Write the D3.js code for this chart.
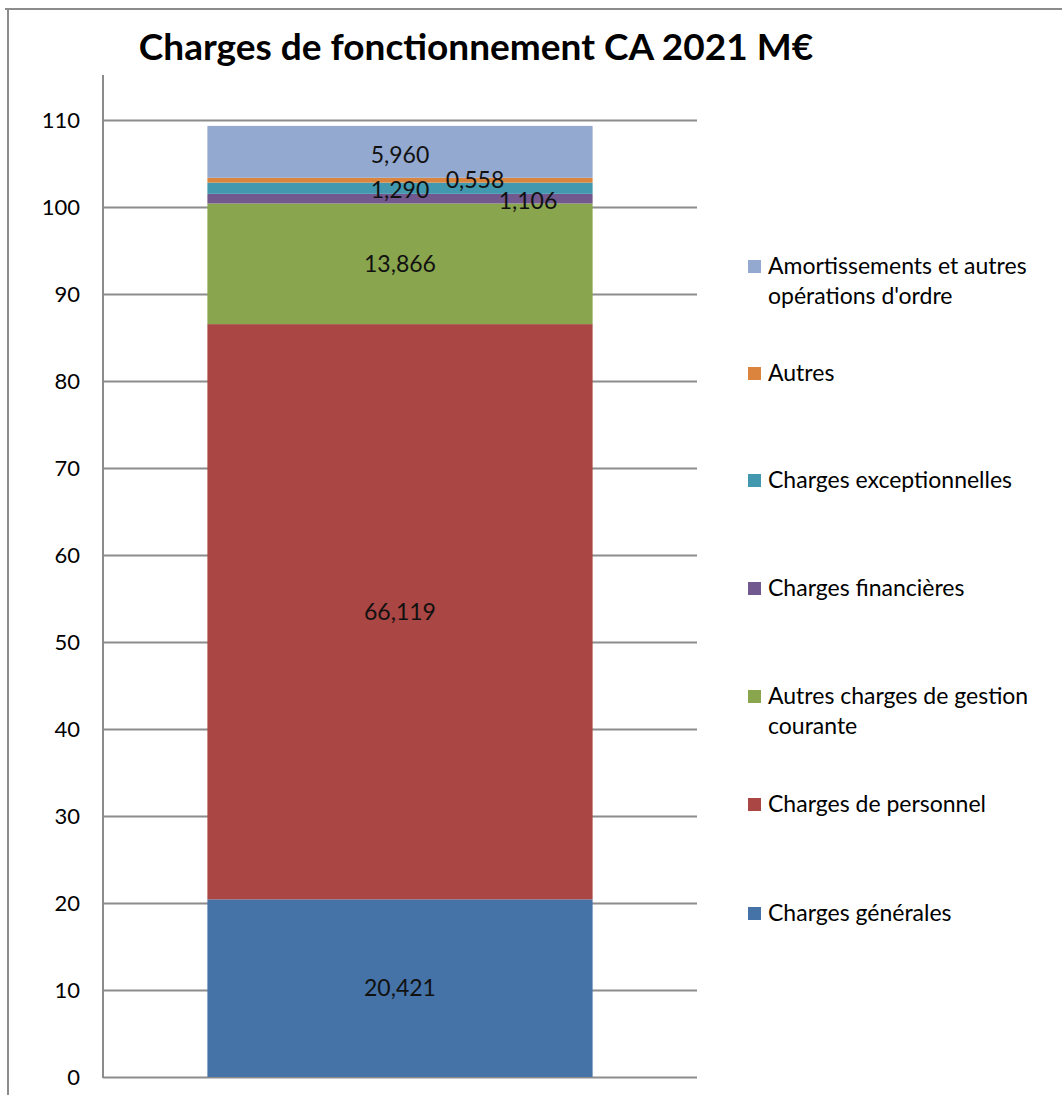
<!DOCTYPE html>
<html lang="fr">
<head>
  <meta charset="UTF-8">
  <title>Charges de fonctionnement CA 2021 M€</title>
  <script src="https://d3js.org/d3.v7.min.js"></script>
  <style>
    body { margin: 0; background: #fff; font-family: Lato, "Noto Sans", sans-serif; }
    .grid line { stroke: #8c8c8c; stroke-width: 2; }
    .grid path { display: none; }
  </style>
</head>
<body>
  <div id="chart"></div>
  <script>
    // Données
    const series = ["Charges générales", "Charges de personnel", "Autres charges de gestion courante",
                    "Charges financières", "Charges exceptionnelles", "Autres",
                    "Amortissements et autres opérations d'ordre"];
    const values = [20.421, 66.119, 13.866, 1.106, 1.290, 0.558, 5.960];
    const labels = ["20,421", "66,119", "13,866", "1,106", "1,290", "0,558", "5,960"];
    const yTicks = [0, 10, 20, 30, 40, 50, 60, 70, 80, 90, 100, 110];

    const colors = ["#4572a7", "#aa4643", "#89a54e", "#71588f", "#4198af", "#db843d", "#93a9cf"];
    // décalage manuel des étiquettes (petites séries)
    const labelShift = {3: [128, 2], 5: [75, 0], 4: [0, 2], 6: [0, 3]};

    const W = 1062, H = 1095;
    const svg = d3.select("#chart").append("svg").attr("width", W).attr("height", H);

    // cadre
    svg.append("path").attr("d", `M5,9 H${W} M8,9 V${H}`)
       .attr("fill", "none").attr("stroke", "#8c8c8c").attr("stroke-width", 2);

    svg.append("text").attr("x", 476).attr("y", 60).attr("text-anchor", "middle")
       .style("font-size", "37px").style("font-weight", "bold").text("Charges de fonctionnement CA 2021 M€");

    const y = d3.scaleLinear().domain([0, 110]).range([1077, 120]);
    const x = d3.scaleBand().domain(["CA 2021"]).range([103, 697]).paddingInner(0).paddingOuter(0.271);

    const left = 103, right = 697;

    svg.append("g").attr("class", "grid")
       .attr("transform", `translate(${left},0)`)
       .call(d3.axisLeft(y).tickValues(yTicks).tickSize(-(right - left)).tickFormat(""));

    svg.append("line").attr("x1", left).attr("x2", left).attr("y1", 75).attr("y2", 1078)
       .attr("stroke", "#8c8c8c").attr("stroke-width", 2);

    svg.append("g").selectAll("text").data(yTicks).join("text")
       .attr("x", 80).attr("y", d => y(d)).attr("dy", "0.35em").attr("text-anchor", "end")
       .style("font-size", "22px").attr("fill", "#000").text(d => d);

    const stacked = [];
    let acc = 0;
    values.forEach((v, i) => { stacked.push({i, y0: acc, y1: acc + v}); acc += v; });

    svg.append("g").selectAll("rect").data(stacked).join("rect")
       .attr("x", x("CA 2021")).attr("width", x.bandwidth())
       .attr("y", d => y(d.y1)).attr("height", d => y(d.y0) - y(d.y1))
       .attr("fill", d => colors[d.i]);

    svg.append("g").selectAll("text").data(stacked).join("text")
       .attr("x", d => x("CA 2021") + x.bandwidth() / 2 + (labelShift[d.i] ? labelShift[d.i][0] : 0))
       .attr("y", d => y((d.y0 + d.y1) / 2) + (labelShift[d.i] ? labelShift[d.i][1] : 0))
       .attr("dy", "0.35em").attr("text-anchor", "middle")
       .style("font-size", "23px").attr("fill", "#111").text(d => labels[d.i]);

    // légende
    const legendRows = [
      {i: 6, y: 266, lines: ["Amortissements et autres", "opérations d'ordre"]},
      {i: 5, y: 373, lines: ["Autres"]},
      {i: 4, y: 480, lines: ["Charges exceptionnelles"]},
      {i: 3, y: 588, lines: ["Charges financières"]},
      {i: 2, y: 696, lines: ["Autres charges de gestion", "courante"]},
      {i: 1, y: 804, lines: ["Charges de personnel"]},
      {i: 0, y: 913, lines: ["Charges générales"]}
    ];
    const lg = svg.append("g").selectAll("g").data(legendRows).join("g")
       .attr("transform", d => `translate(748,${d.y})`);
    lg.append("rect").attr("x", 0).attr("y", -6).attr("width", 13).attr("height", 13)
      .attr("fill", d => colors[d.i]);
    lg.each(function(d) {
      d3.select(this).selectAll("text").data(d.lines).join("text")
        .attr("x", 20).attr("y", (l, k) => k * 30).attr("dy", "0.35em")
        .style("font-size", "23px").attr("fill", "#000").text(l => l);
    });
  </script>
</body>
</html>
